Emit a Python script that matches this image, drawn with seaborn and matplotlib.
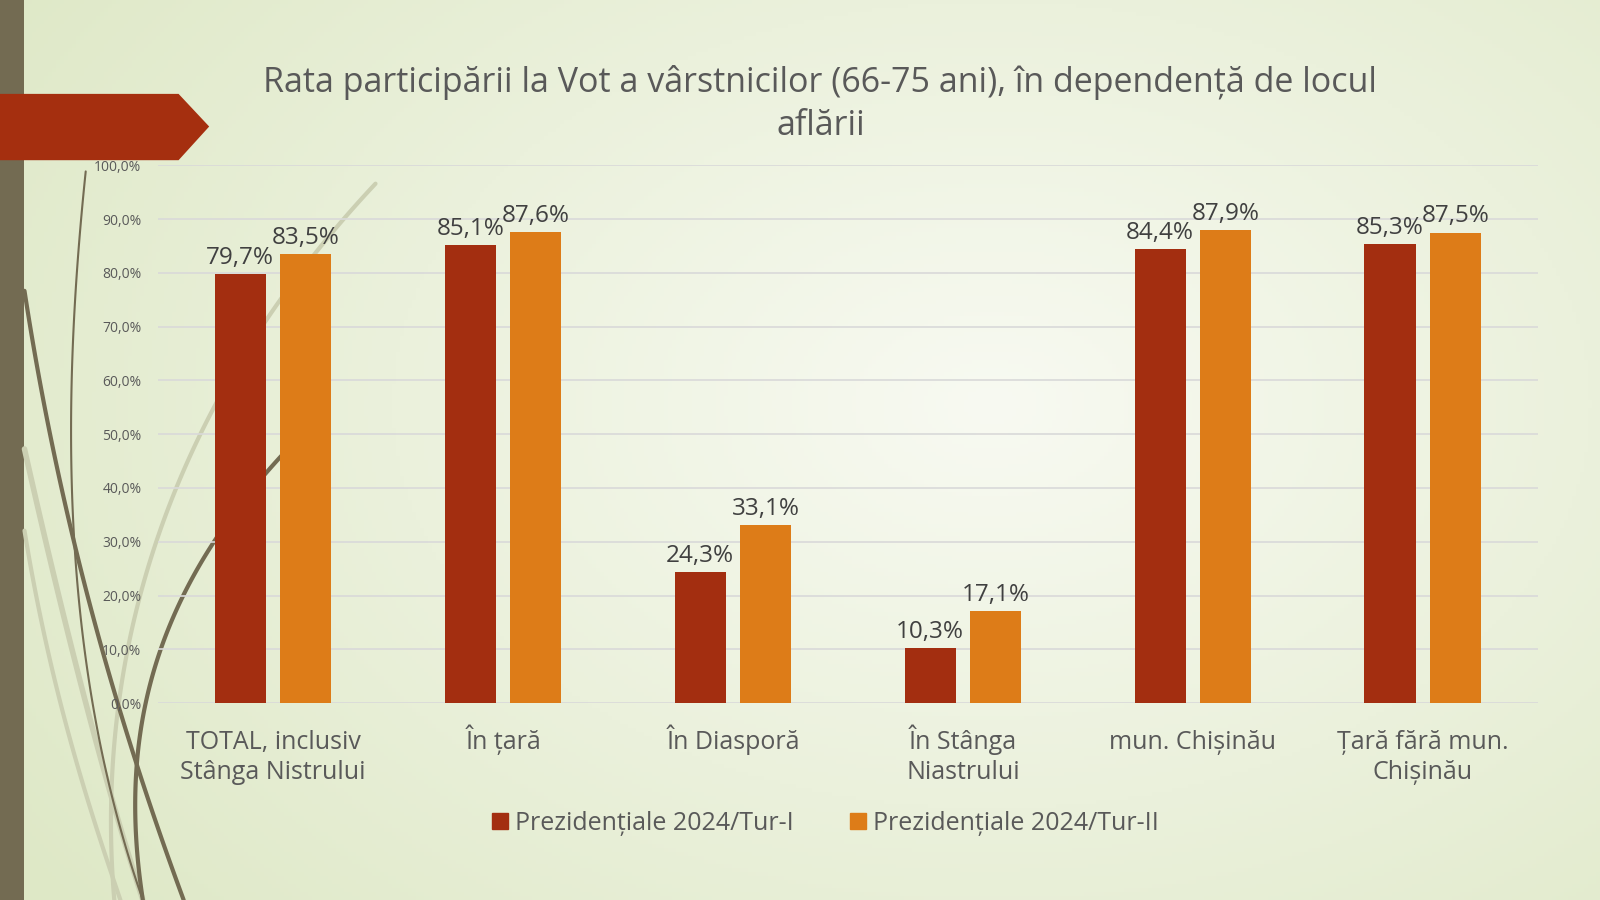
import numpy as np
import pandas as pd
import seaborn as sns
import matplotlib.pyplot as plt
from matplotlib.patches import Polygon
from matplotlib.lines import Line2D
from matplotlib.ticker import FuncFormatter

# Data
locations = ["TOTAL, inclusiv\nStânga Nistrului", "În țară", "În Diasporă",
             "În Stânga\nNiastrului", "mun. Chișinău", "Țară fără mun.\nChișinău"]
series = ["Prezidențiale 2024/Tur-I", "Prezidențiale 2024/Tur-II"]
tur1 = [79.7, 85.1, 24.3, 10.3, 84.4, 85.3]
tur2 = [83.5, 87.6, 33.1, 17.1, 87.9, 87.5]
y_ticks = list(range(0, 101, 10))

colors = ["#a32e10", "#dd7c18"]
text_gray = "#595959"

df = pd.DataFrame({
    "loc": locations * 2,
    "val": tur1 + tur2,
    "series": [series[0]] * len(locations) + [series[1]] * len(locations),
})

sns.set_theme(style="white")
plt.rcParams['font.family'] = ['Open Sans', 'DejaVu Sans']

W, H = 1568, 882  # reference pixel grid
fig = plt.figure(figsize=(16, 9), dpi=100)

# slide background
bg = fig.add_axes([0, 0, 1, 1], zorder=-10)
gx, gy = np.meshgrid(np.linspace(0, 1, 400), np.linspace(0, 1, 225))
d = np.sqrt(((gx - 0.62) / 0.75) ** 2 + ((gy - 0.45) / 0.9) ** 2)
d = np.clip(d, 0, 1)
c_in = np.array([248, 250, 242]) / 255
c_out = np.array([222, 232, 198]) / 255
img = c_in[None, None, :] * (1 - d[..., None]) + c_out[None, None, :] * d[..., None]
bg.imshow(img, extent=[0, W, H, 0], aspect="auto")
bg.set_xlim(0, W)
bg.set_ylim(H, 0)
bg.axis("off")


def bez(p0, p1, p2, p3, n=100):
    t = np.linspace(0, 1, n)[:, None]
    p = ((1 - t) ** 3) * np.array(p0) + 3 * ((1 - t) ** 2) * t * np.array(p1) \
        + 3 * (1 - t) * t ** 2 * np.array(p2) + t ** 3 * np.array(p3)
    return p[:, 0], p[:, 1]


light = "#cbcfb2"
dark = "#736b52"
for pts, col, lw in [
    (((24, 440), (60, 600), (100, 760), (140, 882)), light, 4),
    (((24, 520), (50, 680), (90, 800), (118, 882)), light, 3),
    (((368, 180), (180, 380), (90, 620), (112, 882)), light, 3),
    (((24, 285), (60, 520), (120, 720), (180, 882)), dark, 3),
    (((84, 168), (62, 380), (55, 640), (140, 882)), dark, 1.5),
    (((282, 440), (150, 580), (115, 720), (140, 882)), dark, 3),
]:
    x, y = bez(*pts)
    bg.plot(x, y, color=col, lw=lw, solid_capstyle="round")

bg.add_patch(plt.Rectangle((0, 0), 24, H, color=dark, lw=0))
bg.add_patch(Polygon([(0, 92), (175, 92), (205, 124), (175, 157), (0, 157)],
                     closed=True, color="#a52f0f", lw=0))

# chart
ax = fig.add_axes([155 / W, 1 - 689 / H, (1507 - 155) / W, (689 - 162) / H])
ax.set_facecolor("none")
sns.barplot(data=df, x="loc", y="val", hue="series", palette=colors,
            width=0.57, gap=0.22, ax=ax, legend=False, saturation=1,
            linewidth=0, zorder=3)

for cont in ax.containers:
    ax.bar_label(cont, labels=[f"{v:.1f}%".replace(".", ",") for v in cont.datavalues],
                 fontsize=17.5, color="#404040", padding=3)

ax.set_ylim(0, 100)
ax.set_yticks(y_ticks)
ax.yaxis.set_major_formatter(FuncFormatter(lambda v, p: f"{v:.1f}%".replace(".", ",")))
ax.grid(axis="y", color="#d9d9d9", lw=1.2, zorder=0)
ax.set_axisbelow(True)
for s in ax.spines.values():
    s.set_visible(False)
ax.tick_params(axis="y", labelsize=10, colors=text_gray, length=0, pad=12)
ax.tick_params(axis="x", labelsize=18, colors=text_gray, length=0, pad=55)
# two text lines for every label so the first lines share one baseline
tick_text = [t if "\n" in t else t + "\n" for t in locations]
ax.set_xticks(range(len(locations)), labels=tick_text, va="baseline", linespacing=1.3)
ax.set_xlabel("")
ax.set_ylabel("")

fig.text(804 / W, 1 - 64 / H,
         "Rata participării la Vot a vârstnicilor (66-75 ani), în dependență de locul\naflării",
         ha="center", va="top", fontsize=24.5, color=text_gray, linespacing=1.32)

handles = [Line2D([0], [0], marker="s", color="none", markerfacecolor=c,
                  markeredgecolor=c, markersize=12) for c in colors]
fig.legend(handles, series, loc="center", bbox_to_anchor=(808 / W, 1 - 807 / H),
           ncol=2, frameon=False, fontsize=18, labelcolor=text_gray,
           handletextpad=0.2, columnspacing=2.2, handlelength=0.8)

fig.savefig("out.png", dpi=100)
